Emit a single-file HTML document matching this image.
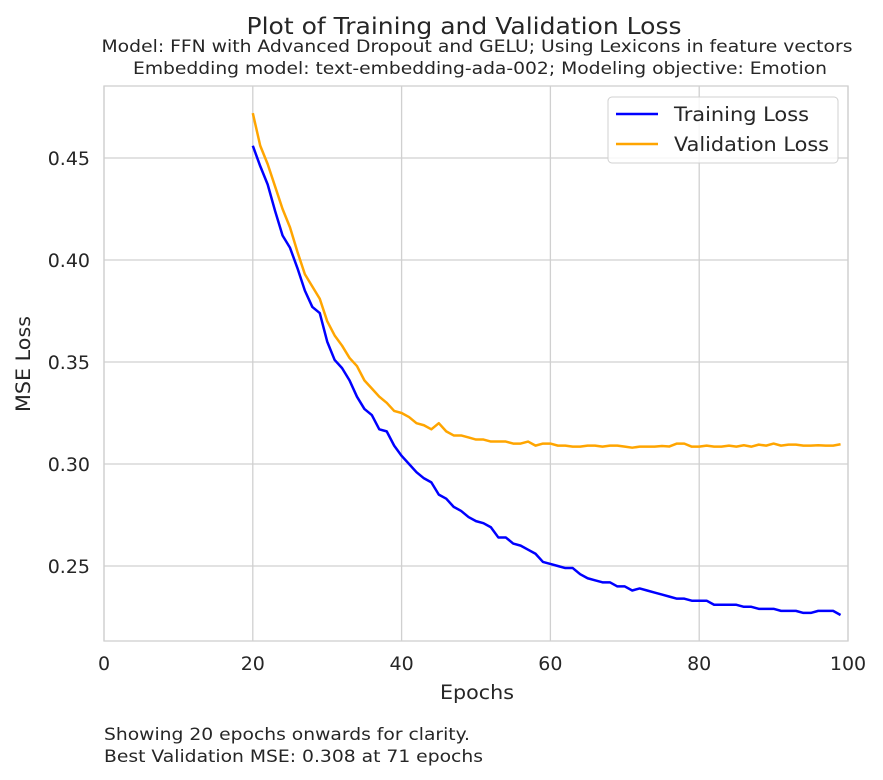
<!DOCTYPE html>
<html><head><meta charset="utf-8"><style>
html,body{margin:0;padding:0;background:#fff;}
svg{display:block;font-family:"DejaVu Sans","Liberation Sans",sans-serif;}
</style></head><body>
<svg id="chart" width="883" height="780" viewBox="0 0 883 780">
<text x="464" y="34" font-size="23" text-anchor="middle" fill="#262626" textLength="435" lengthAdjust="spacingAndGlyphs">Plot of Training and Validation Loss</text>
<text x="477" y="52" font-size="16.5" text-anchor="middle" fill="#262626" textLength="751" lengthAdjust="spacingAndGlyphs">Model: FFN with Advanced Dropout and GELU; Using Lexicons in feature vectors</text>
<text x="480" y="74" font-size="16.5" text-anchor="middle" fill="#262626" textLength="694" lengthAdjust="spacingAndGlyphs">Embedding model: text-embedding-ada-002; Modeling objective: Emotion</text>
<g id="grid"></g>
<rect x="104" y="86" width="744" height="555" fill="none" stroke="#d0d0d0" stroke-width="1.3"/>
<g id="series"></g>
<g id="ticks"></g>
<text x="477" y="699" font-size="19.5" text-anchor="middle" fill="#262626" textLength="74" lengthAdjust="spacingAndGlyphs">Epochs</text>
<text transform="translate(30,364) rotate(-90)" font-size="19.5" text-anchor="middle" fill="#262626" textLength="96" lengthAdjust="spacingAndGlyphs">MSE Loss</text>
<g>
<rect x="608" y="97" width="230" height="66" rx="4" fill="#fff" fill-opacity="0.8" stroke="#d0d0d0"/>
<line x1="616" y1="114" x2="658" y2="114" stroke="#0000ff" stroke-width="2.5"/>
<text x="674" y="121" font-size="19.5" fill="#262626" textLength="135" lengthAdjust="spacingAndGlyphs">Training Loss</text>
<line x1="616" y1="144" x2="658" y2="144" stroke="#ffa500" stroke-width="2.5"/>
<text x="674" y="151" font-size="19.5" fill="#262626" textLength="155" lengthAdjust="spacingAndGlyphs">Validation Loss</text>
</g>
<text x="104" y="740" font-size="16.5" fill="#262626" textLength="366" lengthAdjust="spacingAndGlyphs">Showing 20 epochs onwards for clarity.</text>
<text x="104" y="762" font-size="16.5" fill="#262626" textLength="379" lengthAdjust="spacingAndGlyphs">Best Validation MSE: 0.308 at 71 epochs</text>
</svg>
<script>
const startEpoch = 20;
const trainingLoss = [0.456,0.446,0.437,0.424,0.412,0.406,0.396,0.385,0.377,0.374,0.360,0.351,0.347,0.341,0.333,0.327,0.324,0.317,0.316,0.309,0.304,0.300,0.296,0.293,0.291,0.285,0.283,0.279,0.277,0.274,0.272,0.271,0.269,0.264,0.264,0.261,0.260,0.258,0.256,0.252,0.251,0.250,0.249,0.249,0.246,0.244,0.243,0.242,0.242,0.240,0.240,0.238,0.239,0.238,0.237,0.236,0.235,0.234,0.234,0.233,0.233,0.233,0.231,0.231,0.231,0.231,0.230,0.230,0.229,0.229,0.229,0.228,0.228,0.228,0.227,0.227,0.228,0.228,0.228,0.226];
const validationLoss = [0.472,0.456,0.447,0.436,0.425,0.416,0.404,0.393,0.387,0.381,0.370,0.363,0.358,0.352,0.348,0.341,0.337,0.333,0.330,0.326,0.325,0.323,0.320,0.319,0.317,0.320,0.316,0.314,0.314,0.313,0.312,0.312,0.311,0.311,0.311,0.310,0.310,0.311,0.309,0.310,0.310,0.309,0.309,0.3085,0.3085,0.309,0.309,0.3085,0.309,0.309,0.3085,0.308,0.3085,0.3085,0.3085,0.3088,0.3086,0.310,0.310,0.3085,0.3085,0.309,0.3085,0.3085,0.309,0.3085,0.3092,0.3085,0.3095,0.309,0.310,0.309,0.3095,0.3095,0.309,0.309,0.3092,0.309,0.309,0.3097];
const xTicks = [0,20,40,60,80,100];
const yTicks = [0.25,0.30,0.35,0.40,0.45];
const yTickLabels = ["0.25","0.30","0.35","0.40","0.45"];

const NS = "http://www.w3.org/2000/svg";
const L=104,R=848,T=86,B=641;
const xMin=0,xMax=100,yMin=0.21324,yMax=0.48529;
const xs = v => L + (v-xMin)/(xMax-xMin)*(R-L);
const ys = v => B - (v-yMin)/(yMax-yMin)*(B-T);
function mk(tag, attrs, parent){const e=document.createElementNS(NS,tag);for(const k in attrs)e.setAttribute(k,attrs[k]);parent.appendChild(e);return e;}
const grid=document.getElementById('grid'), ticks=document.getElementById('ticks'), series=document.getElementById('series');
xTicks.forEach(t=>{
  const g=mk('line',{x1:xs(t),x2:xs(t),y1:T,y2:B,stroke:'#d0d0d0','stroke-width':1.3},grid);
  
  
  const tx=mk('text',{x:xs(t),y:670,'font-size':19,'text-anchor':'middle',fill:'#262626'},ticks);
  tx.textContent=t;
  
  
});
yTicks.forEach((t,i)=>{
  const g=mk('line',{x1:L,x2:R,y1:ys(t),y2:ys(t),stroke:'#d0d0d0','stroke-width':1.3},grid);
  
  
  const tx=mk('text',{x:90,y:ys(t)+7,'font-size':19,'text-anchor':'end',fill:'#262626'},ticks);
  tx.textContent=yTickLabels[i];
  
  
});
function line(data,color,name){
  const pts=data.map((v,i)=>xs(startEpoch+i).toFixed(2)+','+ys(v).toFixed(2)).join(' ');
  const p=mk('polyline',{points:pts,fill:'none',stroke:color,'stroke-width':2.5,'stroke-linejoin':'round'},series);
  
  
}
line(validationLoss,'#ffa500','validation-loss-line');
line(trainingLoss,'#0000ff','training-loss-line');
</script>
</body></html>
